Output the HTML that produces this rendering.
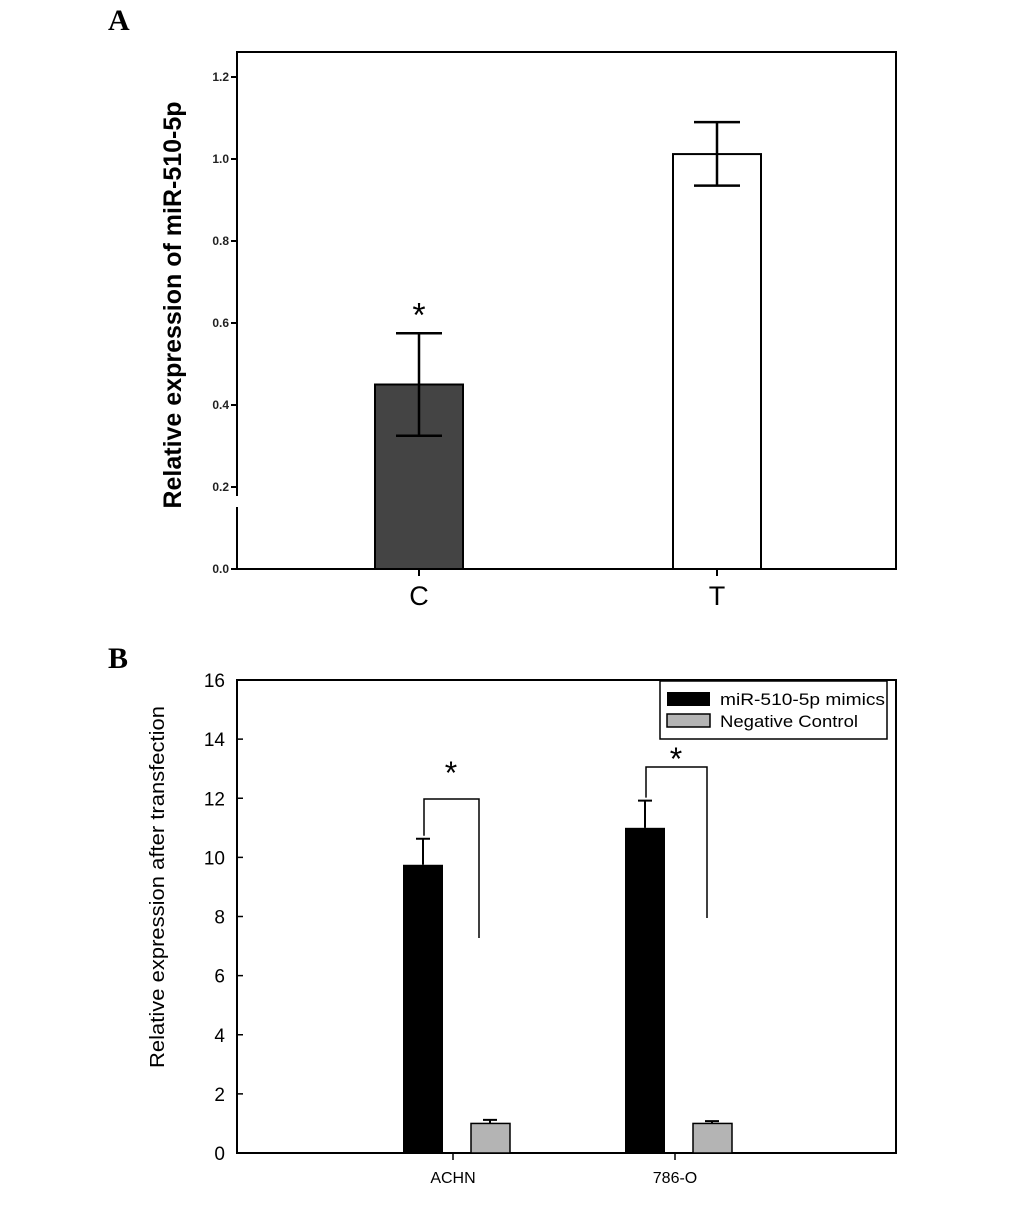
<!DOCTYPE html>
<html><head><meta charset="utf-8"><style>
html,body{margin:0;padding:0;background:#fff}
svg{display:block;font-family:"Liberation Sans",Arial,sans-serif}
</style></head><body>
<svg id="fig" width="1033" height="1209" viewBox="0 0 1033 1209">
<text x="108" y="30" font-family="Liberation Serif,serif" font-weight="bold" font-size="30">A</text>
<text x="108" y="668" font-family="Liberation Serif,serif" font-weight="bold" font-size="30">B</text>
<g id="pa"></g>
<g id="pb"></g>
</svg>
<script>
// Panel A data
const aCats = ["C","T"];
const aVals = [0.45, 1.012];
const aErrLo = [0.325, 0.935];
const aErrHi = [0.575, 1.09];
const aTicks = ["0.0","0.2","0.4","0.6","0.8","1.0","1.2"];
const aTickVals = [0,0.2,0.4,0.6,0.8,1.0,1.2];
// Panel B data
const bCats = ["ACHN","786-O"];
const bMimics = [9.75, 11.0];
const bMimicsErr = [0.88, 0.92];
const bNeg = [1.0, 1.0];
const bNegErr = [0.12, 0.08];
const bTickVals = [0,2,4,6,8,10,12,14,16];
const bSeries = ["miR-510-5p mimics","Negative Control"];

const NS="http://www.w3.org/2000/svg";
function mk(parent,tag,attrs,text){const e=document.createElementNS(NS,tag);for(const k in attrs)e.setAttribute(k,attrs[k]);if(text!==undefined)e.textContent=text;parent.appendChild(e);return e;}

// ---- Panel A ----
const pa=document.getElementById('pa');
const aY=v=>569-v/0.2*82;
const aX=i=>[419,717][i];
let e;
e=mk(pa,'rect',{x:237,y:52,width:659,height:517,fill:'none',stroke:'#000','stroke-width':2});


mk(pa,'rect',{x:230,y:496,width:14,height:11,fill:'#fff'});
aTickVals.forEach((v,i)=>{
  mk(pa,'line',{x1:231,x2:237,y1:aY(v),y2:aY(v),stroke:'#000','stroke-width':2});
  e=mk(pa,'text',{x:229,y:aY(v)+4,'text-anchor':'end','font-size':12,'font-weight':'bold',fill:'#222'},aTicks[i]);
  
  
});
aCats.forEach((c,i)=>{
  const x=aX(i);
  e=mk(pa,'rect',{x:x-44,y:aY(aVals[i]),width:88,height:569-aY(aVals[i]),fill:i===0?'#444':'#fff',stroke:'#000','stroke-width':2});
  
  
  e=mk(pa,'path',{d:`M${x},${aY(aErrLo[i])}V${aY(aErrHi[i])}M${x-23},${aY(aErrLo[i])}h46M${x-23},${aY(aErrHi[i])}h46`,stroke:'#000','stroke-width':2.5,fill:'none'});
  
  
  mk(pa,'line',{x1:x,x2:x,y1:569,y2:576,stroke:'#000','stroke-width':2});
  e=mk(pa,'text',{x:x,y:605,'text-anchor':'middle','font-size':27},c);
  
  
});
e=mk(pa,'text',{x:aX(0),y:aY(aErrHi[0])-7,'text-anchor':'middle','font-size':34},'*');


e=mk(pa,'text',{x:0,y:0,transform:'translate(181,305) rotate(-90)','text-anchor':'middle','font-size':25,'font-weight':'bold'},'Relative expression of miR-510-5p');



// ---- Panel B ----
const pb=document.getElementById('pb');
const bY=v=>1153-v*29.5625;
const bX=i=>[453,675][i];
e=mk(pb,'rect',{x:237,y:680,width:659,height:473,fill:'none',stroke:'#000','stroke-width':2});


bTickVals.forEach(v=>{
  mk(pb,'line',{x1:237,x2:243,y1:bY(v),y2:bY(v),stroke:'#000','stroke-width':1.5});
  e=mk(pb,'text',{x:225,y:bY(v)+7,'text-anchor':'end','font-size':19},String(v));
  
  
});
bCats.forEach((c,i)=>{
  const cx=bX(i);
  const mx=cx-30, nx=cx+37;
  e=mk(pb,'rect',{x:mx-20,y:bY(bMimics[i]),width:40,height:1153-bY(bMimics[i]),fill:'#000'});
  
  
  e=mk(pb,'path',{d:`M${mx},${bY(bMimics[i])}V${bY(bMimics[i]+bMimicsErr[i])}M${mx-7},${bY(bMimics[i]+bMimicsErr[i])}h14`,stroke:'#000','stroke-width':2,fill:'none'});
  
  
  e=mk(pb,'rect',{x:nx-19,y:bY(bNeg[i]),width:39,height:1153-bY(bNeg[i]),fill:'#b4b4b4',stroke:'#000','stroke-width':1.5});
  
  
  e=mk(pb,'path',{d:`M${nx},${bY(bNeg[i])}V${bY(bNeg[i]+bNegErr[i])}M${nx-7},${bY(bNeg[i]+bNegErr[i])}h14`,stroke:'#000','stroke-width':2,fill:'none'});
  
  
  mk(pb,'line',{x1:cx,x2:cx,y1:1153,y2:1160,stroke:'#000','stroke-width':1.5});
  e=mk(pb,'text',{x:cx,y:1183,'text-anchor':'middle','font-size':16},c);
  
  
  const ty=i===0?799:767;
  const rx=i===0?479:707;
  e=mk(pb,'path',{d:`M${mx+1},${bY(bMimics[i]+bMimicsErr[i])-3}V${ty}H${rx}V${i===0?938:918}`,stroke:'#000','stroke-width':1.5,fill:'none'});
  
  
  e=mk(pb,'text',{x:(mx+rx)/2,y:i===0?ty-15:ty+3,'text-anchor':'middle','font-size':32},'*');
  
  
});
e=mk(pb,'g',{});


mk(e,'rect',{x:660,y:681,width:227,height:58,fill:'#fff',stroke:'#000','stroke-width':1.5});
mk(e,'rect',{x:667,y:692,width:43,height:14,fill:'#000'});
mk(e,'rect',{x:667,y:714,width:43,height:13,fill:'#b4b4b4',stroke:'#000','stroke-width':1.5});
let t=mk(e,'text',{x:720,y:705,'font-size':17,textLength:165,lengthAdjust:'spacingAndGlyphs'},bSeries[0]);


t=mk(e,'text',{x:720,y:727,'font-size':17,textLength:138,lengthAdjust:'spacingAndGlyphs'},bSeries[1]);


e=mk(pb,'text',{x:0,y:0,transform:'translate(164,887) rotate(-90)','text-anchor':'middle','font-size':20,textLength:362,lengthAdjust:'spacingAndGlyphs'},'Relative expression after transfection');


</script>
</body></html>
